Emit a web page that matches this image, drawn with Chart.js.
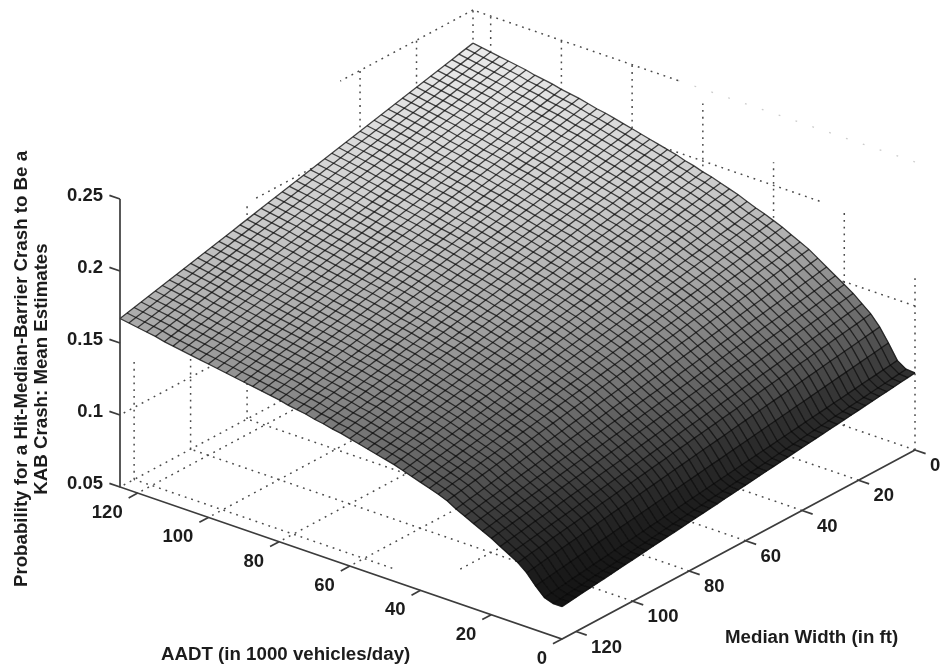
<!DOCTYPE html>
<html>
<head>
<meta charset="utf-8">
<title>Probability surface</title>
<script src="https://cdn.jsdelivr.net/npm/chart.js@4"></script>
<style>
  body { margin: 0; background: #fff; }
  #wrap { width: 942px; height: 670px; }
  /* the source picture is a soft scan */
  #grafico { filter: blur(0.55px); }
</style>
</head>
<body>
<div id="wrap"><canvas id="grafico" width="942" height="670"></canvas></div>
<script>
// axis ticks
const aadtTicks = [0, 20, 40, 60, 80, 100, 120];
const widthTicks = [0, 20, 40, 60, 80, 100, 120];
const probTicks = [0.05, 0.1, 0.15, 0.2, 0.25];
const probTickLabels = ['0.05', '0.1', '0.15', '0.2', '0.25'];

// surface grid, values
const aadtGrid = [0,2.5,5,7.5,10,12.5,15,17.5,20,22.5,25,27.5,30,32.5,35,37.5,40,42.5,45,47.5,50,52.5,55,57.5,60,62.5,65,67.5,70,72.5,75,77.5,80,82.5,85,87.5,90,92.5,95,97.5,100,102.5,105,107.5,110,112.5,115,117.5,120,122.5,125];
const widthGrid = [0,2.5,5,7.5,10,12.5,15,17.5,20,22.5,25,27.5,30,32.5,35,37.5,40,42.5,45,47.5,50,52.5,55,57.5,60,62.5,65,67.5,70,72.5,75,77.5,80,82.5,85,87.5,90,92.5,95,97.5,100,102.5,105,107.5,110,112.5,115,117.5,120,122.5,125];
// probability x 10000, one row per AADT value, one column per width value
const probGrid = [
[1035,1029,1023,1016,1010,1004,998,992,985,979,973,967,961,954,948,942,936,930,923,917,911,905,899,892,886,880,874,868,861,855,849,843,837,830,824,818,812,806,799,793,787,781,775,768,762,756,750,744,737,731,725],
[1040,1034,1027,1021,1015,1009,1002,996,990,983,977,971,964,958,952,946,939,933,927,920,914,908,901,895,889,883,876,870,864,857,851,845,838,832,826,820,813,807,801,794,788,782,775,769,763,757,750,744,738,731,725],
[1080,1073,1067,1060,1053,1047,1040,1033,1026,1020,1013,1006,1000,993,986,980,973,966,959,953,946,939,933,926,919,913,906,899,892,886,879,872,866,859,852,846,839,832,825,819,812,805,799,792,785,779,772,765,758,752,745],
[1180,1173,1165,1158,1150,1143,1135,1128,1120,1113,1105,1098,1090,1083,1075,1068,1060,1053,1045,1038,1030,1023,1015,1008,1000,993,985,978,970,963,955,948,940,933,925,918,910,903,895,888,880,873,865,858,850,843,835,828,820,813,805],
[1270,1262,1254,1246,1238,1231,1223,1215,1207,1199,1191,1183,1175,1167,1159,1152,1144,1136,1128,1120,1112,1104,1096,1088,1080,1073,1065,1057,1049,1041,1033,1025,1017,1009,1001,994,986,978,970,962,954,946,938,930,922,915,907,899,891,883,875],
[1340,1332,1323,1315,1307,1299,1290,1282,1274,1265,1257,1249,1240,1232,1224,1216,1207,1199,1191,1182,1174,1166,1157,1149,1141,1133,1124,1116,1108,1099,1091,1083,1074,1066,1058,1050,1041,1033,1025,1016,1008,1000,991,983,975,967,958,950,942,933,925],
[1390,1381,1373,1364,1356,1347,1338,1330,1321,1313,1304,1295,1287,1278,1270,1261,1252,1244,1235,1227,1218,1209,1201,1192,1184,1175,1166,1158,1149,1141,1132,1123,1115,1106,1098,1089,1080,1072,1063,1055,1046,1037,1029,1020,1012,1003,994,986,977,969,960],
[1440,1431,1422,1413,1404,1396,1387,1378,1369,1360,1351,1342,1333,1324,1315,1307,1298,1289,1280,1271,1262,1253,1244,1235,1226,1218,1209,1200,1191,1182,1173,1164,1155,1146,1137,1129,1120,1111,1102,1093,1084,1075,1066,1057,1048,1040,1031,1022,1013,1004,995],
[1480,1471,1462,1453,1444,1435,1426,1417,1408,1399,1390,1381,1372,1363,1354,1345,1336,1327,1318,1309,1300,1291,1282,1273,1264,1255,1246,1237,1228,1219,1210,1201,1192,1183,1174,1165,1156,1147,1138,1129,1120,1111,1102,1093,1084,1075,1066,1057,1048,1039,1030],
[1520,1511,1502,1492,1483,1474,1465,1456,1446,1437,1428,1419,1410,1400,1391,1382,1373,1364,1354,1345,1336,1327,1318,1308,1299,1290,1281,1272,1262,1253,1244,1235,1226,1216,1207,1198,1189,1180,1170,1161,1152,1143,1134,1124,1115,1106,1097,1088,1078,1069,1060],
[1560,1551,1541,1532,1522,1513,1504,1494,1485,1475,1466,1457,1447,1438,1428,1419,1410,1400,1391,1381,1372,1363,1353,1344,1334,1325,1316,1306,1297,1287,1278,1269,1259,1250,1240,1231,1222,1212,1203,1193,1184,1175,1165,1156,1146,1137,1128,1118,1109,1099,1090],
[1600,1590,1581,1571,1562,1552,1542,1533,1523,1514,1504,1494,1485,1475,1466,1456,1446,1437,1427,1418,1408,1398,1389,1379,1370,1360,1350,1341,1331,1322,1312,1302,1293,1283,1274,1264,1254,1245,1235,1226,1216,1206,1197,1187,1178,1168,1158,1149,1139,1130,1120],
[1640,1630,1620,1611,1601,1591,1581,1571,1562,1552,1542,1532,1522,1513,1503,1493,1483,1473,1464,1454,1444,1434,1424,1415,1405,1395,1385,1375,1366,1356,1346,1336,1326,1317,1307,1297,1287,1277,1268,1258,1248,1238,1228,1219,1209,1199,1189,1179,1170,1160,1150],
[1670,1660,1651,1641,1631,1622,1612,1602,1592,1583,1573,1563,1554,1544,1534,1525,1515,1505,1495,1486,1476,1466,1457,1447,1437,1428,1418,1408,1398,1389,1379,1369,1360,1350,1340,1331,1321,1311,1301,1292,1282,1272,1263,1253,1243,1234,1224,1214,1204,1195,1185],
[1700,1690,1680,1671,1661,1651,1641,1631,1622,1612,1602,1592,1582,1573,1563,1553,1543,1533,1524,1514,1504,1494,1484,1475,1465,1455,1445,1435,1426,1416,1406,1396,1386,1377,1367,1357,1347,1337,1328,1318,1308,1298,1288,1279,1269,1259,1249,1239,1230,1220,1210],
[1730,1720,1710,1700,1690,1680,1670,1660,1650,1640,1630,1620,1610,1600,1590,1580,1570,1560,1550,1540,1530,1520,1510,1500,1490,1480,1470,1460,1450,1440,1430,1420,1410,1400,1390,1380,1370,1360,1350,1340,1330,1320,1310,1300,1290,1280,1270,1260,1250,1240,1230],
[1755,1745,1735,1725,1715,1705,1694,1684,1674,1664,1654,1644,1634,1624,1614,1604,1593,1583,1573,1563,1553,1543,1533,1523,1513,1503,1492,1482,1472,1462,1452,1442,1432,1422,1412,1402,1391,1381,1371,1361,1351,1341,1331,1321,1311,1301,1290,1280,1270,1260,1250],
[1780,1770,1760,1749,1739,1729,1719,1709,1698,1688,1678,1668,1658,1647,1637,1627,1617,1607,1596,1586,1576,1566,1556,1545,1535,1525,1515,1505,1494,1484,1474,1464,1454,1443,1433,1423,1413,1403,1392,1382,1372,1362,1352,1341,1331,1321,1311,1301,1290,1280,1270],
[1800,1790,1780,1769,1759,1749,1739,1729,1718,1708,1698,1688,1678,1667,1657,1647,1637,1627,1616,1606,1596,1586,1576,1565,1555,1545,1535,1525,1514,1504,1494,1484,1474,1463,1453,1443,1433,1423,1412,1402,1392,1382,1372,1361,1351,1341,1331,1321,1310,1300,1290],
[1825,1815,1804,1794,1784,1774,1763,1753,1743,1732,1722,1712,1701,1691,1681,1671,1660,1650,1640,1629,1619,1609,1598,1588,1578,1568,1557,1547,1537,1526,1516,1506,1495,1485,1475,1465,1454,1444,1434,1423,1413,1403,1392,1382,1372,1362,1351,1341,1331,1320,1310],
[1850,1840,1829,1819,1808,1798,1787,1777,1766,1756,1745,1735,1724,1714,1703,1693,1682,1672,1661,1651,1640,1630,1619,1609,1598,1588,1577,1567,1556,1546,1535,1525,1514,1504,1493,1483,1472,1462,1451,1441,1430,1420,1409,1399,1388,1378,1367,1357,1346,1336,1325],
[1870,1859,1849,1838,1828,1817,1806,1796,1785,1775,1764,1753,1743,1732,1722,1711,1700,1690,1679,1669,1658,1647,1637,1626,1616,1605,1594,1584,1573,1563,1552,1541,1531,1520,1510,1499,1488,1478,1467,1457,1446,1435,1425,1414,1404,1393,1382,1372,1361,1351,1340],
[1890,1879,1869,1858,1847,1836,1826,1815,1804,1794,1783,1772,1762,1751,1740,1729,1719,1708,1697,1687,1676,1665,1655,1644,1633,1622,1612,1601,1590,1580,1569,1558,1548,1537,1526,1515,1505,1494,1483,1473,1462,1451,1441,1430,1419,1408,1398,1387,1376,1366,1355],
[1910,1899,1888,1878,1867,1856,1845,1834,1824,1813,1802,1791,1780,1770,1759,1748,1737,1726,1716,1705,1694,1683,1672,1662,1651,1640,1629,1618,1608,1597,1586,1575,1564,1554,1543,1532,1521,1510,1500,1489,1478,1467,1456,1446,1435,1424,1413,1402,1392,1381,1370],
[1925,1914,1903,1893,1882,1871,1860,1849,1839,1828,1817,1806,1795,1785,1774,1763,1752,1741,1731,1720,1709,1698,1687,1677,1666,1655,1644,1633,1623,1612,1601,1590,1579,1569,1558,1547,1536,1525,1515,1504,1493,1482,1471,1461,1450,1439,1428,1417,1407,1396,1385],
[1945,1934,1923,1912,1901,1891,1880,1869,1858,1847,1836,1825,1814,1803,1792,1782,1771,1760,1749,1738,1727,1716,1705,1694,1683,1673,1662,1651,1640,1629,1618,1607,1596,1585,1574,1564,1553,1542,1531,1520,1509,1498,1487,1476,1465,1455,1444,1433,1422,1411,1400],
[1960,1949,1938,1927,1916,1905,1894,1883,1872,1861,1850,1839,1828,1817,1806,1795,1784,1773,1762,1751,1740,1729,1718,1707,1696,1685,1674,1663,1652,1641,1630,1619,1608,1597,1586,1575,1564,1553,1542,1531,1520,1509,1498,1487,1476,1465,1454,1443,1432,1421,1410],
[1980,1969,1958,1947,1936,1925,1913,1902,1891,1880,1869,1858,1847,1836,1825,1814,1802,1791,1780,1769,1758,1747,1736,1725,1714,1703,1691,1680,1669,1658,1647,1636,1625,1614,1603,1592,1580,1569,1558,1547,1536,1525,1514,1503,1492,1481,1469,1458,1447,1436,1425],
[1995,1984,1973,1961,1950,1939,1928,1917,1905,1894,1883,1872,1861,1849,1838,1827,1816,1805,1793,1782,1771,1760,1749,1737,1726,1715,1704,1693,1681,1670,1659,1648,1637,1625,1614,1603,1592,1581,1569,1558,1547,1536,1525,1513,1502,1491,1480,1469,1457,1446,1435],
[2010,1999,1988,1976,1965,1954,1943,1932,1920,1909,1898,1887,1876,1864,1853,1842,1831,1820,1808,1797,1786,1775,1764,1752,1741,1730,1719,1708,1696,1685,1674,1663,1652,1640,1629,1618,1607,1596,1584,1573,1562,1551,1540,1528,1517,1506,1495,1484,1472,1461,1450],
[2025,2014,2002,1991,1980,1969,1957,1946,1935,1923,1912,1901,1889,1878,1867,1856,1844,1833,1822,1810,1799,1788,1776,1765,1754,1743,1731,1720,1709,1697,1686,1675,1663,1652,1641,1630,1618,1607,1596,1584,1573,1562,1550,1539,1528,1517,1505,1494,1483,1471,1460],
[2040,2029,2017,2006,1994,1983,1972,1960,1949,1937,1926,1915,1903,1892,1880,1869,1858,1846,1835,1823,1812,1801,1789,1778,1766,1755,1744,1732,1721,1709,1698,1687,1675,1664,1652,1641,1630,1618,1607,1595,1584,1573,1561,1550,1538,1527,1516,1504,1493,1481,1470],
[2055,2044,2032,2021,2009,1998,1987,1975,1964,1952,1941,1930,1918,1907,1895,1884,1873,1861,1850,1838,1827,1816,1804,1793,1781,1770,1759,1747,1736,1724,1713,1702,1690,1679,1667,1656,1645,1633,1622,1610,1599,1588,1576,1565,1553,1542,1531,1519,1508,1496,1485],
[2070,2059,2047,2036,2024,2013,2001,1990,1978,1967,1955,1944,1932,1921,1909,1898,1886,1875,1863,1852,1840,1829,1817,1806,1794,1783,1771,1760,1748,1737,1725,1714,1702,1691,1679,1668,1656,1645,1633,1622,1610,1599,1587,1576,1564,1553,1541,1530,1518,1507,1495],
[2085,2073,2062,2050,2039,2027,2015,2004,1992,1981,1969,1957,1946,1934,1923,1911,1899,1888,1876,1865,1853,1841,1830,1818,1807,1795,1783,1772,1760,1749,1737,1725,1714,1702,1691,1679,1667,1656,1644,1633,1621,1609,1598,1586,1575,1563,1551,1540,1528,1517,1505],
[2100,2088,2077,2065,2053,2042,2030,2018,2006,1995,1983,1971,1960,1948,1936,1925,1913,1901,1889,1878,1866,1854,1843,1831,1819,1808,1796,1784,1772,1761,1749,1737,1726,1714,1702,1691,1679,1667,1655,1644,1632,1620,1609,1597,1585,1574,1562,1550,1538,1527,1515],
[2110,2098,2087,2075,2063,2052,2040,2028,2016,2005,1993,1981,1970,1958,1946,1935,1923,1911,1899,1888,1876,1864,1853,1841,1829,1818,1806,1794,1782,1771,1759,1747,1736,1724,1712,1701,1689,1677,1665,1654,1642,1630,1619,1607,1595,1584,1572,1560,1548,1537,1525],
[2125,2113,2101,2090,2078,2066,2054,2042,2031,2019,2007,1995,1983,1972,1960,1948,1936,1924,1913,1901,1889,1877,1865,1854,1842,1830,1818,1806,1795,1783,1771,1759,1747,1736,1724,1712,1700,1688,1677,1665,1653,1641,1629,1618,1606,1594,1582,1570,1559,1547,1535],
[2140,2128,2116,2104,2092,2081,2069,2057,2045,2033,2021,2009,1997,1985,1973,1962,1950,1938,1926,1914,1902,1890,1878,1866,1854,1843,1831,1819,1807,1795,1783,1771,1759,1747,1735,1724,1712,1700,1688,1676,1664,1652,1640,1628,1616,1605,1593,1581,1569,1557,1545],
[2150,2138,2126,2114,2102,2091,2079,2067,2055,2043,2031,2019,2007,1995,1983,1972,1960,1948,1936,1924,1912,1900,1888,1876,1864,1853,1841,1829,1817,1805,1793,1781,1769,1757,1745,1734,1722,1710,1698,1686,1674,1662,1650,1638,1626,1615,1603,1591,1579,1567,1555],
[2160,2148,2136,2124,2112,2101,2089,2077,2065,2053,2041,2029,2017,2005,1993,1982,1970,1958,1946,1934,1922,1910,1898,1886,1874,1863,1851,1839,1827,1815,1803,1791,1779,1767,1755,1744,1732,1720,1708,1696,1684,1672,1660,1648,1636,1625,1613,1601,1589,1577,1565],
[2175,2163,2151,2139,2127,2115,2103,2091,2079,2067,2055,2043,2031,2019,2007,1995,1983,1971,1959,1947,1935,1923,1911,1899,1887,1875,1863,1851,1839,1827,1815,1803,1791,1779,1767,1755,1743,1731,1719,1707,1695,1683,1671,1659,1647,1635,1623,1611,1599,1587,1575],
[2185,2173,2161,2149,2137,2125,2113,2101,2089,2077,2065,2053,2041,2029,2017,2005,1993,1981,1969,1957,1945,1933,1921,1909,1897,1885,1873,1861,1849,1837,1825,1813,1801,1789,1777,1765,1753,1741,1729,1717,1705,1693,1681,1669,1657,1645,1633,1621,1609,1597,1585],
[2195,2183,2171,2159,2147,2135,2123,2111,2099,2087,2075,2063,2051,2039,2027,2015,2003,1991,1979,1967,1955,1943,1931,1919,1907,1895,1883,1871,1859,1847,1835,1823,1811,1799,1787,1775,1763,1751,1739,1727,1715,1703,1691,1679,1667,1655,1643,1631,1619,1607,1595],
[2210,2198,2186,2174,2162,2150,2137,2125,2113,2101,2089,2077,2065,2053,2041,2029,2016,2004,1992,1980,1968,1956,1944,1932,1920,1908,1895,1883,1871,1859,1847,1835,1823,1811,1799,1787,1774,1762,1750,1738,1726,1714,1702,1690,1678,1666,1653,1641,1629,1617,1605],
[2220,2208,2196,2184,2172,2160,2147,2135,2123,2111,2099,2087,2075,2063,2051,2039,2026,2014,2002,1990,1978,1966,1954,1942,1930,1918,1905,1893,1881,1869,1857,1845,1833,1821,1809,1797,1784,1772,1760,1748,1736,1724,1712,1700,1688,1676,1663,1651,1639,1627,1615],
[2230,2218,2206,2194,2182,2170,2158,2146,2134,2122,2110,2098,2086,2074,2062,2050,2038,2026,2014,2002,1990,1978,1966,1954,1942,1930,1918,1906,1894,1882,1870,1858,1846,1834,1822,1810,1798,1786,1774,1762,1750,1738,1726,1714,1702,1690,1678,1666,1654,1642,1630],
[2240,2228,2216,2204,2192,2180,2168,2156,2144,2132,2120,2108,2096,2084,2072,2060,2048,2036,2024,2012,2000,1988,1976,1964,1952,1940,1928,1916,1904,1892,1880,1868,1856,1844,1832,1820,1808,1796,1784,1772,1760,1748,1736,1724,1712,1700,1688,1676,1664,1652,1640],
[2250,2238,2226,2214,2202,2190,2178,2166,2154,2142,2130,2118,2106,2094,2082,2070,2058,2046,2034,2022,2010,1998,1986,1974,1962,1950,1938,1926,1914,1902,1890,1878,1866,1854,1842,1830,1818,1806,1794,1782,1770,1758,1746,1734,1722,1710,1698,1686,1674,1662,1650],
[2260,2248,2236,2224,2212,2200,2188,2176,2164,2152,2140,2128,2116,2104,2092,2080,2068,2056,2044,2032,2020,2008,1996,1984,1972,1960,1948,1936,1924,1912,1900,1888,1876,1864,1852,1840,1828,1816,1804,1792,1780,1768,1756,1744,1732,1720,1708,1696,1684,1672,1660],
[2270,2258,2246,2234,2222,2210,2198,2186,2174,2162,2150,2138,2126,2114,2102,2090,2078,2066,2054,2042,2030,2018,2006,1994,1982,1970,1958,1946,1934,1922,1910,1898,1886,1874,1862,1850,1838,1826,1814,1802,1790,1778,1766,1754,1742,1730,1718,1706,1694,1682,1670]
];

const yTitleLines = ['Probability for a Hit-Median-Barrier Crash to Be a', 'KAB Crash: Mean Estimates'];
const xTitle = 'AADT (in 1000 vehicles/day)';
const wTitle = 'Median Width (in ft)';

// box limits of the plot
const aadtMax = 125, widthMax = 125, probMin = 0.05, probTop = 0.25;

// view of the 3d box onto the flat canvas scales
function proj(a, w, z) {
  return {
    x: 915 - 2.824 * w - 3.536 * a,
    y: 450 + 1.512 * w - 1.216 * a - 1440 * (z - probMin)
  };
}

function linha(pontos, estilo) {
  return Object.assign({
    type: 'scatter', showLine: true, data: pontos, pointRadius: 0, fill: false
  }, estilo);
}

var pontilhado = { borderColor: '#4a4a4a', borderWidth: 1.5, borderDash: [1.8, 5], order: 4 };
var fraco = { borderColor: '#cccccc', borderWidth: 1.3, borderDash: [1.8, 16], order: 4 };
var eixo = { borderColor: '#3c3c3c', borderWidth: 1.7, order: 1 };
var malha = { borderColor: 'rgba(10,10,10,0.74)', borderWidth: 1.3, order: 2 };

var datasets = [];

// floor lines
[[20, 0, 0], [40, 0, 111], [60, 0, widthMax], [80, 0, widthMax], [100, 0, widthMax], [120, 0, widthMax]].forEach(function (l) {
  if (l[2] > 0) datasets.push(linha([proj(l[0], l[1], probMin), proj(l[0], l[2], probMin)], pontilhado));
});
[[20, 0], [40, 0], [60, 0], [80, 0], [100, 0], [120, 52]].forEach(function (l) {
  datasets.push(linha([proj(l[1], l[0], probMin), proj(aadtMax, l[0], probMin)], pontilhado));
});
// wall at width 0
datasets.push(linha([proj(0, 0, probMin), proj(aadtMax, 0, probMin)], pontilhado));
datasets.push(linha([proj(0, 0, 0.15), proj(aadtMax, 0, 0.15)], pontilhado));
datasets.push(linha([proj(27, 0, 0.2), proj(aadtMax, 0, 0.2)], pontilhado));
datasets.push(linha([proj(67, 0, probTop), proj(aadtMax, 0, probTop)], pontilhado));
datasets.push(linha([proj(0, 0, probTop), proj(67, 0, probTop)], fraco));
[[0, 0.17], [20, 0.2], [40, 0.216], [60, 0.24], [80, probTop], [100, probTop], [120, probTop], [aadtMax, probTop]].forEach(function (l) {
  datasets.push(linha([proj(l[0], 0, probMin), proj(l[0], 0, l[1])], pontilhado));
});
// wall at aadt max
datasets.push(linha([proj(aadtMax, 0, probMin), proj(aadtMax, widthMax, probMin)], pontilhado));
datasets.push(linha([proj(aadtMax, 0, 0.1), proj(aadtMax, widthMax, 0.1)], pontilhado));
datasets.push(linha([proj(aadtMax, 55, 0.2), proj(aadtMax, 77, 0.2)], pontilhado));
datasets.push(linha([proj(aadtMax, 0, probTop), proj(aadtMax, 47, probTop)], pontilhado));
[[20, probTop], [40, probTop], [60, 0.2], [80, 0.2], [100, 0.15], [120, 0.135]].forEach(function (l) {
  datasets.push(linha([proj(aadtMax, l[0], probMin), proj(aadtMax, l[0], l[1])], pontilhado));
});

// surface nodes, faces get painted from these elements by the plugin below
var nos = [];
aadtGrid.forEach(function (a, i) {
  widthGrid.forEach(function (w, j) {
    nos.push(proj(a, w, probGrid[i][j] / 10000));
  });
});
datasets.push({ type: 'scatter', label: 'superficie', data: nos, pointRadius: 0, order: 3 });

// mesh lines
aadtGrid.forEach(function (a, i) {
  datasets.push(linha(widthGrid.map(function (w, j) { return proj(a, w, probGrid[i][j] / 10000); }), malha));
});
widthGrid.forEach(function (w, j) {
  datasets.push(linha(aadtGrid.map(function (a, i) { return proj(a, w, probGrid[i][j] / 10000); }), malha));
});

// axes and their tick marks
datasets.push(linha([proj(aadtMax, widthMax, probTop), proj(aadtMax, widthMax, probMin), proj(0, widthMax, probMin), proj(0, 0, probMin)], eixo));
probTicks.forEach(function (z) {
  datasets.push(linha([proj(aadtMax, widthMax, z), proj(aadtMax + 3, widthMax, z)], eixo));
});
aadtTicks.forEach(function (a) {
  datasets.push(linha([proj(a, widthMax, probMin), proj(a, widthMax + 3.2, probMin)], eixo));
});
widthTicks.forEach(function (w) {
  datasets.push(linha([proj(0, w, probMin), proj(-3, w, probMin)], eixo));
});

function cinza(z) {
  var pts = [[0.07, 18], [0.09, 32], [0.105, 50], [0.125, 88], [0.145, 128], [0.165, 168], [0.19, 205], [0.23, 238]];
  for (var i = 1; i < pts.length; i++) {
    if (z <= pts[i][0]) {
      var t = Math.max(0, (z - pts[i - 1][0]) / (pts[i][0] - pts[i - 1][0]));
      var g = Math.round(pts[i - 1][1] + t * (pts[i][1] - pts[i - 1][1]));
      return 'rgb(' + g + ',' + g + ',' + g + ')';
    }
  }
  return 'rgb(238,238,238)';
}

const facesPlugin = {
  id: 'faces',
  afterDatasetDraw: function (chart, args) {
    if (chart.data.datasets[args.index].label !== 'superficie') return;
    var el = args.meta.data, n = widthGrid.length, ctx = chart.ctx;
    ctx.save();
    ctx.lineWidth = 0.6;
    for (var i = aadtGrid.length - 2; i >= 0; i--) {
      for (var j = 0; j < n - 1; j++) {
        var k = i * n + j;
        var p = [el[k], el[k + 1], el[k + n + 1], el[k + n]];
        var z = (probGrid[i][j] + probGrid[i][j + 1] + probGrid[i + 1][j] + probGrid[i + 1][j + 1]) / 40000;
        var c = cinza(z);
        ctx.fillStyle = c;
        ctx.strokeStyle = c;
        ctx.beginPath();
        ctx.moveTo(p[0].x, p[0].y);
        ctx.lineTo(p[1].x, p[1].y);
        ctx.lineTo(p[2].x, p[2].y);
        ctx.lineTo(p[3].x, p[3].y);
        ctx.closePath();
        ctx.fill();
        ctx.stroke();
      }
    }
    ctx.restore();
  }
};

const textosPlugin = {
  id: 'textos',
  afterDraw: function (chart) {
    var ctx = chart.ctx, sx = chart.scales.x, sy = chart.scales.y;
    ctx.save();
    ctx.fillStyle = '#1c1c1c';
    ctx.textBaseline = 'middle';
    ctx.font = 'bold 18.5px "Liberation Sans", Arial, sans-serif';
    ctx.textAlign = 'right';
    probTicks.forEach(function (z, i) {
      var p = proj(aadtMax, widthMax, z);
      ctx.fillText(probTickLabels[i], sx.getPixelForValue(p.x) - 17, sy.getPixelForValue(p.y) - 3);
    });
    aadtTicks.forEach(function (a) {
      var p = proj(a, widthMax, probMin);
      ctx.fillText(String(a), sx.getPixelForValue(p.x) - 15, sy.getPixelForValue(p.y) + 20);
    });
    ctx.textAlign = 'left';
    widthTicks.forEach(function (w) {
      var p = proj(0, w, probMin);
      ctx.fillText(String(w), sx.getPixelForValue(p.x) + 15, sy.getPixelForValue(p.y) + 16);
    });
    ctx.font = 'bold 18.7px "Liberation Sans", Arial, sans-serif';
    ctx.fillText(xTitle, 161, 655);
    ctx.fillText(wTitle, 725, 638);
    ctx.translate(22, 369);
    ctx.rotate(-Math.PI / 2);
    ctx.textAlign = 'center';
    ctx.fillText(yTitleLines[0], 0, 0);
    ctx.fillText(yTitleLines[1], 0, 20);
    ctx.restore();
  }
};

new Chart(document.getElementById('grafico').getContext('2d'), {
  type: 'scatter',
  data: { datasets: datasets },
  plugins: [facesPlugin, textosPlugin],
  options: {
    responsive: false,
    animation: false,
    layout: { padding: 0 },
    plugins: { legend: { display: false }, tooltip: { enabled: false } },
    scales: {
      x: { type: 'linear', min: 0, max: 942, display: false },
      y: { type: 'linear', min: 0, max: 670, reverse: true, display: false }
    }
  }
});
</script>
</body>
</html>
